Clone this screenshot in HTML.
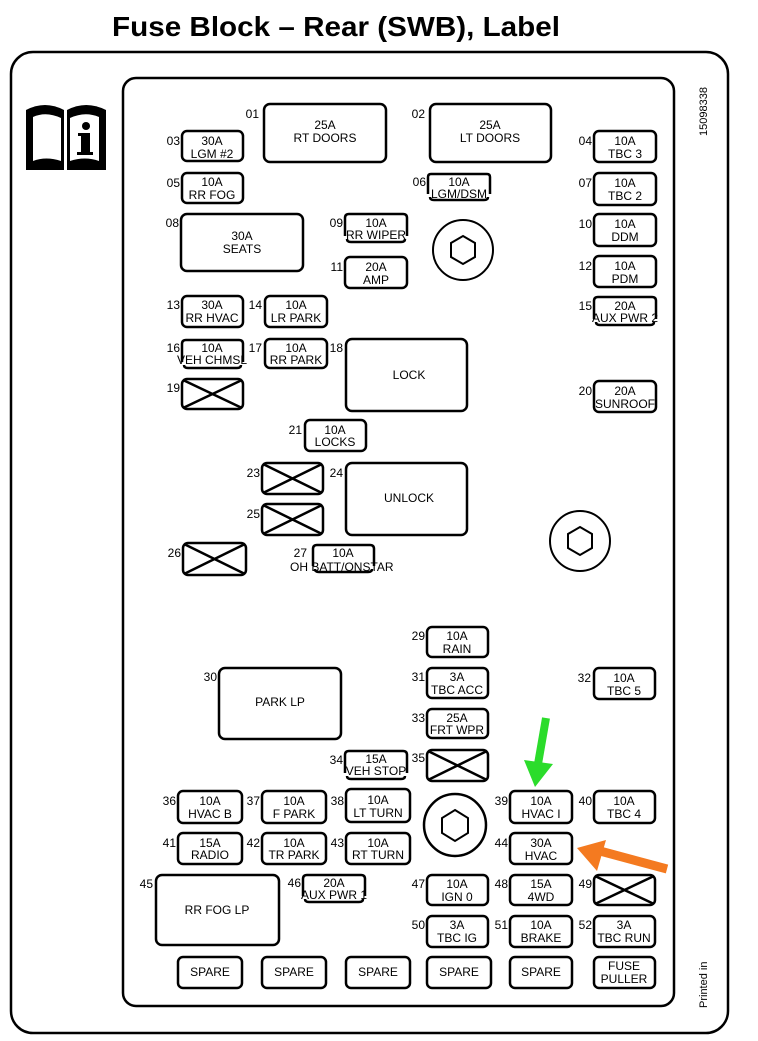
<!DOCTYPE html>
<html><head><meta charset="utf-8"><style>
html,body{margin:0;padding:0;background:#fff}
svg{display:block}
text{font-family:"Liberation Sans",Arial,sans-serif;fill:#000}
.f{fill:#fff;stroke:#000;stroke-width:2.5}
.b{fill:none;stroke:#000;stroke-width:2.5}
.t{font-size:12px;text-anchor:middle}
.n{font-size:12px;text-anchor:end}
.x{stroke:#000;stroke-width:2.5}
</style></head><body>
<svg width="758" height="1041" viewBox="0 0 758 1041" xmlns="http://www.w3.org/2000/svg">
<text x="112" y="36" font-size="28" font-weight="bold" textLength="448" lengthAdjust="spacingAndGlyphs">Fuse Block – Rear (SWB), Label</text>
<rect x="11" y="52" width="717" height="981" rx="22" fill="none" stroke="#000" stroke-width="2.5"/>
<rect x="123" y="78" width="551" height="928" rx="13" fill="none" stroke="#000" stroke-width="2.5"/>
<!-- book icon -->
<g>
<path d="M26,110 Q45,100 64,110 L64,170 L26,170 Z" fill="#000"/>
<path d="M67,110 Q86,100 106,110 L106,170 L67,170 Z" fill="#000"/>
<path d="M33,117 Q46,111 61,118 L61,161 Q46,156 33,161 Z" fill="#fff"/>
<path d="M70,118 Q85,111 99,117 L99,161 Q85,156 70,161 Z" fill="#fff"/>
<circle cx="86" cy="126" r="4" fill="#000"/>
<rect x="81" y="133" width="9" height="22" fill="#000"/>
<rect x="78" y="133" width="4" height="3" fill="#000"/>
<rect x="77" y="152" width="16" height="3" fill="#000"/>
</g>
<text transform="translate(707,136) rotate(-90)" font-size="11">15098338</text>
<text transform="translate(707,1008) rotate(-90)" font-size="11">Printed in</text>

<rect class="f" x="264" y="104" width="122" height="58" rx="6"/><text class="t" x="325" y="129">25A</text><text class="t" x="325" y="142">RT DOORS</text><text class="n" x="259" y="118">01</text>
<rect class="f" x="430" y="104" width="121" height="58" rx="6"/><text class="t" x="490" y="129">25A</text><text class="t" x="490" y="142">LT DOORS</text><text class="n" x="425" y="118">02</text>
<rect class="f" x="182" y="131" width="61" height="30" rx="5"/><text class="t" x="212" y="145">30A</text><text class="t" x="212" y="158">LGM #2</text><text class="n" x="180" y="145">03</text>
<rect class="f" x="594" y="131" width="62" height="31" rx="5"/><text class="t" x="625" y="145">10A</text><text class="t" x="625" y="158">TBC 3</text><text class="n" x="592" y="145">04</text>
<rect class="f" x="182" y="173" width="61" height="30" rx="5"/><text class="t" x="212" y="186">10A</text><text class="t" x="212" y="199">RR FOG</text><text class="n" x="180" y="187">05</text>
<path class="b" d="M428,194 V177 Q428,174 431,174 H487 Q490,174 490,177 V194"/><path class="b" d="M430,197 Q430,200 434,200 H484 Q488,200 488,197"/><text class="t" x="459" y="186">10A</text><text class="t" x="459" y="198">LGM/DSM</text><text class="n" x="426" y="186">06</text>
<rect class="f" x="594" y="173" width="62" height="32" rx="5"/><text class="t" x="625" y="187">10A</text><text class="t" x="625" y="200">TBC 2</text><text class="n" x="592" y="187">07</text>
<rect class="f" x="181" y="214" width="122" height="57" rx="6"/><text class="t" x="242" y="240">30A</text><text class="t" x="242" y="253">SEATS</text><text class="n" x="179" y="227">08</text>
<path class="b" d="M345,236 V218 Q345,214 349,214 H403 Q407,214 407,218 V236"/><path class="b" d="M347,239 Q347,242 351,242 H401 Q405,242 405,239"/><text class="t" x="376" y="227">10A</text><text class="t" x="376" y="239">RR WIPER</text><text class="n" x="343" y="227">09</text>
<rect class="f" x="594" y="214" width="62" height="32" rx="5"/><text class="t" x="625" y="228">10A</text><text class="t" x="625" y="241">DDM</text><text class="n" x="592" y="228">10</text>
<rect class="f" x="345" y="257" width="62" height="31" rx="5"/><text class="t" x="376" y="271">20A</text><text class="t" x="376" y="284">AMP</text><text class="n" x="343" y="271">11</text>
<rect class="f" x="594" y="256" width="62" height="31" rx="5"/><text class="t" x="625" y="270">10A</text><text class="t" x="625" y="283">PDM</text><text class="n" x="592" y="270">12</text>
<circle cx="463" cy="250" r="30" fill="none" stroke="#000" stroke-width="2"/><polygon points="463,236 475,243 475,257 463,264 451,257 451,243" fill="none" stroke="#000" stroke-width="2"/>
<rect class="f" x="182" y="296" width="61" height="31" rx="5"/><text class="t" x="212" y="309">30A</text><text class="t" x="212" y="322">RR HVAC</text><text class="n" x="180" y="309">13</text>
<rect class="f" x="265" y="296" width="62" height="31" rx="5"/><text class="t" x="296" y="309">10A</text><text class="t" x="296" y="322">LR PARK</text><text class="n" x="262" y="309">14</text>
<path class="b" d="M594,319 V301 Q594,297 598,297 H652 Q656,297 656,301 V319"/><path class="b" d="M596,322 Q596,325 600,325 H650 Q654,325 654,322"/><text class="t" x="625" y="310">20A</text><text class="t" x="625" y="322">AUX PWR 2</text><text class="n" x="592" y="310">15</text>
<path class="b" d="M182,362 V344 Q182,340 186,340 H239 Q243,340 243,344 V362"/><path class="b" d="M184,365 Q184,368 188,368 H237 Q241,368 241,365"/><text class="t" x="212" y="352">10A</text><text class="t" x="212" y="364">VEH CHMSL</text><text class="n" x="180" y="352">16</text>
<rect class="f" x="265" y="339" width="62" height="29" rx="5"/><text class="t" x="296" y="352">10A</text><text class="t" x="296" y="364">RR PARK</text><text class="n" x="262" y="352">17</text>
<rect class="f" x="346" y="339" width="121" height="72" rx="6"/><text class="t" x="409" y="379">LOCK</text><text class="n" x="343" y="352">18</text>
<rect class="f" x="182" y="379" width="61" height="30" rx="5"/><path class="x" d="M183,380 L242,408 M242,380 L183,408"/><text class="n" x="180" y="392">19</text>
<rect class="f" x="594" y="381" width="62" height="31" rx="5"/><text class="t" x="625" y="395">20A</text><text class="t" x="625" y="408">SUNROOF</text><text class="n" x="592" y="395">20</text>
<rect class="f" x="305" y="420" width="61" height="31" rx="5"/><text class="t" x="335" y="434">10A</text><text class="t" x="335" y="446">LOCKS</text><text class="n" x="302" y="434">21</text>
<rect class="f" x="262" y="463" width="61" height="31" rx="5"/><path class="x" d="M263,464 L322,493 M322,464 L263,493"/><text class="n" x="260" y="477">23</text>
<rect class="f" x="346" y="463" width="121" height="72" rx="6"/><text class="t" x="409" y="502">UNLOCK</text><text class="n" x="343" y="477">24</text>
<rect class="f" x="262" y="504" width="61" height="31" rx="5"/><path class="x" d="M263,505 L322,534 M322,505 L263,534"/><text class="n" x="260" y="518">25</text>
<rect class="f" x="183" y="543" width="63" height="32" rx="5"/><path class="x" d="M184,544 L245,574 M245,544 L184,574"/><text class="n" x="181" y="557">26</text>
<path class="b" d="M313,566 V549 Q313,545 317,545 H370 Q374,545 374,549 V566"/><path class="b" d="M315,569 Q315,572 319,572 H368 Q372,572 372,569"/><text class="t" x="343" y="557">10A</text><text class="n" x="307" y="557">27</text><text x="290" y="571" font-size="12">OH BATT/ONSTAR</text>
<circle cx="580" cy="541" r="30" fill="none" stroke="#000" stroke-width="2"/><polygon points="580,527 592,534 592,548 580,555 568,548 568,534" fill="none" stroke="#000" stroke-width="2"/>
<rect class="f" x="427" y="627" width="61" height="30" rx="5"/><text class="t" x="457" y="640">10A</text><text class="t" x="457" y="653">RAIN</text><text class="n" x="425" y="640">29</text>
<rect class="f" x="219" y="668" width="122" height="71" rx="6"/><text class="t" x="280" y="706">PARK LP</text><text class="n" x="217" y="681">30</text>
<rect class="f" x="427" y="668" width="61" height="30" rx="5"/><text class="t" x="457" y="681">3A</text><text class="t" x="457" y="694">TBC ACC</text><text class="n" x="425" y="681">31</text>
<rect class="f" x="594" y="668" width="61" height="31" rx="5"/><text class="t" x="624" y="682">10A</text><text class="t" x="624" y="695">TBC 5</text><text class="n" x="591" y="682">32</text>
<rect class="f" x="427" y="709" width="61" height="29" rx="5"/><text class="t" x="457" y="722">25A</text><text class="t" x="457" y="734">FRT WPR</text><text class="n" x="425" y="722">33</text>
<path class="b" d="M345,773 V755 Q345,751 349,751 H403 Q407,751 407,755 V773"/><path class="b" d="M347,776 Q347,779 351,779 H401 Q405,779 405,776"/><text class="t" x="376" y="763">15A</text><text class="t" x="376" y="775">VEH STOP</text><text class="n" x="343" y="764">34</text>
<rect class="f" x="427" y="750" width="61" height="31" rx="5"/><path class="x" d="M428,751 L487,780 M487,751 L428,780"/><text class="n" x="425" y="762">35</text>
<rect class="f" x="178" y="791" width="64" height="32" rx="5"/><text class="t" x="210" y="805">10A</text><text class="t" x="210" y="818">HVAC B</text><text class="n" x="176" y="805">36</text>
<rect class="f" x="262" y="791" width="64" height="32" rx="5"/><text class="t" x="294" y="805">10A</text><text class="t" x="294" y="818">F PARK</text><text class="n" x="260" y="805">37</text>
<rect class="f" x="346" y="789" width="64" height="33" rx="5"/><text class="t" x="378" y="804">10A</text><text class="t" x="378" y="817">LT TURN</text><text class="n" x="344" y="805">38</text>
<rect class="f" x="510" y="791" width="62" height="32" rx="5"/><text class="t" x="541" y="805">10A</text><text class="t" x="541" y="818">HVAC I</text><text class="n" x="508" y="805">39</text>
<rect class="f" x="594" y="791" width="61" height="32" rx="5"/><text class="t" x="624" y="805">10A</text><text class="t" x="624" y="818">TBC 4</text><text class="n" x="592" y="805">40</text>
<rect class="f" x="178" y="833" width="64" height="31" rx="5"/><text class="t" x="210" y="847">15A</text><text class="t" x="210" y="859">RADIO</text><text class="n" x="176" y="847">41</text>
<rect class="f" x="262" y="833" width="64" height="31" rx="5"/><text class="t" x="294" y="847">10A</text><text class="t" x="294" y="859">TR PARK</text><text class="n" x="260" y="847">42</text>
<rect class="f" x="346" y="833" width="64" height="31" rx="5"/><text class="t" x="378" y="847">10A</text><text class="t" x="378" y="859">RT TURN</text><text class="n" x="344" y="847">43</text>
<rect class="f" x="510" y="833" width="62" height="31" rx="5"/><text class="t" x="541" y="847">30A</text><text class="t" x="541" y="860">HVAC</text><text class="n" x="508" y="847">44</text>
<circle cx="455" cy="825" r="31" fill="none" stroke="#000" stroke-width="2.5"/><polygon points="455,810 468,818 468,833 455,841 442,833 442,818" fill="none" stroke="#000" stroke-width="2"/>
<rect class="f" x="156" y="875" width="123" height="70" rx="6"/><text class="t" x="217" y="914">RR FOG LP</text><text class="n" x="153" y="888">45</text>
<path class="b" d="M303,896 V879 Q303,875 307,875 H361 Q365,875 365,879 V896"/><path class="b" d="M305,899 Q305,902 309,902 H359 Q363,902 363,899"/><text class="t" x="334" y="887">20A</text><text class="t" x="334" y="899">AUX PWR 1</text><text class="n" x="301" y="887">46</text>
<rect class="f" x="427" y="875" width="61" height="30" rx="5"/><text class="t" x="457" y="888">10A</text><text class="t" x="457" y="901">IGN 0</text><text class="n" x="425" y="888">47</text>
<rect class="f" x="510" y="875" width="62" height="30" rx="5"/><text class="t" x="541" y="888">15A</text><text class="t" x="541" y="901">4WD</text><text class="n" x="508" y="888">48</text>
<rect class="f" x="594" y="875" width="61" height="30" rx="5"/><path class="x" d="M595,876 L654,904 M654,876 L595,904"/><text class="n" x="592" y="888">49</text>
<rect class="f" x="427" y="916" width="61" height="31" rx="5"/><text class="t" x="457" y="929">3A</text><text class="t" x="457" y="942">TBC IG</text><text class="n" x="425" y="929">50</text>
<rect class="f" x="510" y="916" width="62" height="31" rx="5"/><text class="t" x="541" y="929">10A</text><text class="t" x="541" y="942">BRAKE</text><text class="n" x="508" y="929">51</text>
<rect class="f" x="594" y="916" width="61" height="31" rx="5"/><text class="t" x="624" y="929">3A</text><text class="t" x="624" y="942">TBC RUN</text><text class="n" x="592" y="929">52</text>
<rect class="f" x="178" y="957" width="64" height="31" rx="5"/><text class="t" x="210" y="976">SPARE</text>
<rect class="f" x="262" y="957" width="64" height="31" rx="5"/><text class="t" x="294" y="976">SPARE</text>
<rect class="f" x="346" y="957" width="64" height="31" rx="5"/><text class="t" x="378" y="976">SPARE</text>
<rect class="f" x="427" y="957" width="64" height="31" rx="5"/><text class="t" x="459" y="976">SPARE</text>
<rect class="f" x="510" y="957" width="62" height="31" rx="5"/><text class="t" x="541" y="976">SPARE</text>
<rect class="f" x="594" y="957" width="61" height="31" rx="5"/><text class="t" x="624" y="970">FUSE</text><text class="t" x="624" y="983">PULLER</text>
<line x1="546" y1="718" x2="538" y2="764" stroke="#2bdc2b" stroke-width="8"/>
<polygon points="524,760 553,764 535,787" fill="#2bdc2b"/>
<line x1="667" y1="869" x2="600" y2="851" stroke="#f47a20" stroke-width="9"/>
<polygon points="577,848 606,840 597,871" fill="#f47a20"/>
</svg>
</body></html>
